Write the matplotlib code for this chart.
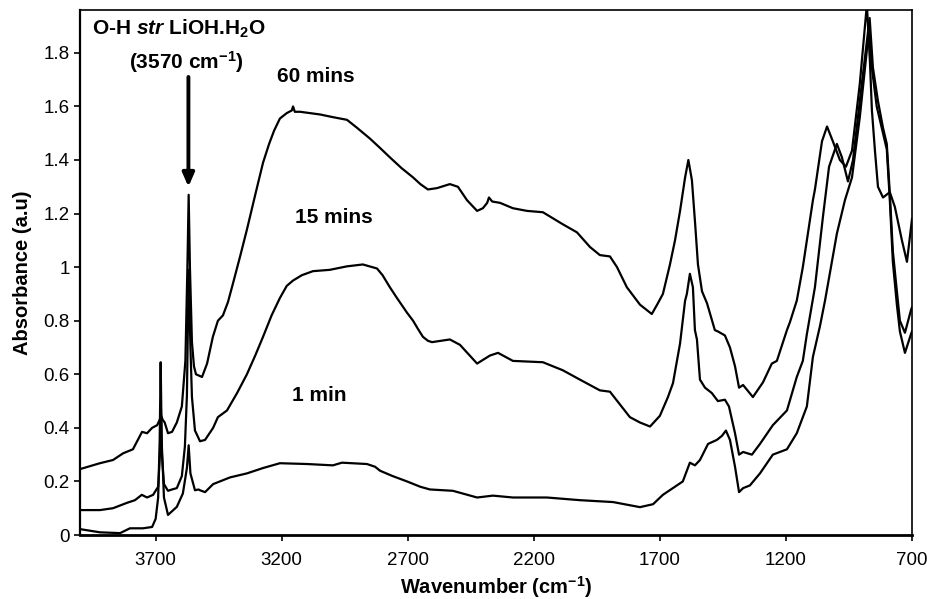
import matplotlib
matplotlib.use("Agg")
import matplotlib.pyplot as plt
from matplotlib.ticker import FuncFormatter

plt.rcParams['font.family'] = ['Liberation Sans', 'DejaVu Sans']
plt.rcParams['mathtext.fontset'] = 'custom'
plt.rcParams['mathtext.rm'] = 'Liberation Sans:bold'
plt.rcParams['mathtext.bf'] = 'Liberation Sans:bold'
plt.rcParams['mathtext.it'] = 'Liberation Sans:italic:bold'

# 60 mins spectrum (wavenumber, absorbance)
wn_60 = [4000, 3921, 3869, 3829, 3790, 3754, 3734, 3714, 3694, 3684, 3678, 3672, 3664,
         3651, 3635, 3616, 3596, 3582, 3574, 3569, 3564, 3556, 3548, 3540, 3516, 3496,
         3473, 3453, 3433, 3413, 3393, 3365, 3338, 3305, 3274, 3250, 3230, 3207, 3180,
         3160, 3155, 3148, 3127, 3048, 2997, 2941, 2901, 2850, 2810, 2771, 2725, 2679,
         2650, 2620, 2584, 2533, 2501, 2465, 2425, 2402, 2385, 2378, 2365, 2334, 2283,
         2227, 2164, 2085, 2029, 1977, 1938, 1898, 1870, 1831, 1779, 1732, 1708, 1688,
         1660, 1640, 1620, 1600, 1587, 1573, 1560, 1549, 1533, 1513, 1482, 1470, 1442,
         1422, 1402, 1386, 1370, 1331, 1291, 1256, 1236, 1196, 1184, 1157, 1133, 1093,
         1085, 1057, 1037, 1014, 986, 962, 938, 907, 879, 867, 859, 847, 835, 815, 788,
         768, 740, 720, 700]
abs_60 = [0.246, 0.268, 0.28, 0.305, 0.32, 0.385, 0.38, 0.40, 0.41, 0.43, 0.445, 0.43, 0.42,
          0.38, 0.385, 0.42, 0.48, 0.65, 1.0, 1.27, 1.0, 0.72, 0.63, 0.60, 0.59, 0.64,
          0.74, 0.80, 0.82, 0.87, 0.94, 1.04, 1.14, 1.27, 1.39, 1.46, 1.51, 1.555, 1.575,
          1.585, 1.60, 1.58, 1.58, 1.57, 1.56, 1.55, 1.52, 1.48, 1.445, 1.41, 1.37, 1.335,
          1.31, 1.29, 1.295, 1.31, 1.30, 1.25, 1.21, 1.22, 1.24, 1.26, 1.245, 1.24, 1.22,
          1.21, 1.205, 1.16, 1.13, 1.075, 1.045, 1.04, 1.0, 0.925, 0.86, 0.825, 0.865, 0.90,
          1.01, 1.10, 1.21, 1.335, 1.40, 1.325, 1.16, 1.01, 0.91, 0.865, 0.765, 0.76, 0.745,
          0.70, 0.63, 0.55, 0.56, 0.515, 0.57, 0.64, 0.65, 0.765, 0.795, 0.875, 1.0, 1.25,
          1.29, 1.47, 1.525, 1.47, 1.40, 1.375, 1.435, 1.685, 1.98, 1.77, 1.585, 1.435, 1.30, 1.26, 1.28,
          1.225, 1.10, 1.02, 1.18]

# 15 mins spectrum
wn_15 = [4000, 3921, 3869, 3814, 3782, 3755, 3734, 3710, 3690, 3683, 3679, 3675, 3667,
         3651, 3635, 3616, 3596, 3584, 3576, 3569, 3562, 3556, 3544, 3524, 3504, 3472,
         3453, 3417, 3377, 3338, 3305, 3274, 3240, 3207, 3180, 3155, 3120, 3076, 3009,
         2941, 2878, 2822, 2800, 2771, 2743, 2703, 2679, 2660, 2640, 2620, 2604, 2533,
         2493, 2425, 2374, 2342, 2283, 2164, 2085, 2017, 1938, 1898, 1819, 1779, 1739,
         1700, 1668, 1648, 1620, 1600, 1593, 1581, 1569, 1561, 1553, 1541, 1521, 1494,
         1470, 1442, 1426, 1402, 1386, 1370, 1335, 1303, 1252, 1196, 1157, 1133, 1117,
         1085, 1053, 1029, 998, 978, 954, 934, 899, 868, 855, 835, 815, 800, 788, 776,
         760, 748, 728, 704, 700]
abs_15 = [0.093, 0.093, 0.10, 0.12, 0.13, 0.15, 0.14, 0.15, 0.18, 0.30, 0.47, 0.30, 0.19,
          0.165, 0.17, 0.175, 0.22, 0.33, 0.52, 0.99, 0.70, 0.515, 0.39, 0.35, 0.355, 0.40,
          0.44, 0.465, 0.53, 0.60, 0.67, 0.74, 0.82, 0.885, 0.93, 0.95, 0.97, 0.985, 0.99,
          1.003, 1.01, 0.995, 0.97, 0.925, 0.885, 0.83, 0.80, 0.77, 0.74, 0.725, 0.72, 0.73,
          0.71, 0.64, 0.67, 0.68, 0.65, 0.645, 0.615, 0.58, 0.54, 0.535, 0.44, 0.42, 0.405,
          0.445, 0.515, 0.567, 0.715, 0.875, 0.90, 0.975, 0.925, 0.765, 0.73, 0.58, 0.55, 0.53,
          0.50, 0.505, 0.48, 0.38, 0.30, 0.31, 0.30, 0.34, 0.41, 0.465, 0.59, 0.65, 0.75,
          0.925, 1.19, 1.375, 1.46, 1.41, 1.32, 1.40, 1.685, 1.93, 1.745, 1.62, 1.52, 1.46, 1.275, 1.06,
          0.91, 0.80, 0.755, 0.84, 0.85]

# 1 min spectrum
wn_1 = [4000, 3921, 3841, 3802, 3750, 3714, 3700, 3690, 3684, 3680, 3676, 3667, 3651,
        3616, 3592, 3576, 3569, 3562, 3544, 3530, 3524, 3504, 3472, 3405, 3338, 3274,
        3207, 3100, 2997, 2961, 2862, 2830, 2810, 2760, 2703, 2650, 2612, 2521, 2425,
        2362, 2283, 2148, 2017, 1886, 1779, 1727, 1688, 1609, 1581, 1561, 1541, 1509,
        1474, 1454, 1438, 1422, 1402, 1386, 1370, 1343, 1303, 1252, 1196, 1157, 1117,
        1093, 1065, 1045, 998, 966, 938, 907, 879, 870, 860, 840, 815, 800, 788, 776,
        760, 748, 728, 704, 700]
abs_1 = [0.022, 0.01, 0.007, 0.025, 0.025, 0.03, 0.06, 0.14, 0.35, 0.645, 0.35, 0.14, 0.075,
         0.105, 0.155, 0.25, 0.335, 0.23, 0.167, 0.17, 0.167, 0.16, 0.19, 0.215, 0.23, 0.25,
         0.268, 0.265, 0.26, 0.27, 0.265, 0.255, 0.24, 0.22, 0.20, 0.18, 0.17, 0.165, 0.14,
         0.147, 0.14, 0.14, 0.13, 0.123, 0.104, 0.115, 0.15, 0.20, 0.27, 0.26, 0.28, 0.34,
         0.355, 0.37, 0.39, 0.355, 0.255, 0.16, 0.175, 0.185, 0.23, 0.30, 0.32, 0.38, 0.48,
         0.665, 0.78, 0.875, 1.125, 1.25, 1.335, 1.56, 1.81, 1.90, 1.75, 1.60, 1.50, 1.44, 1.25, 1.02,
         0.86, 0.76, 0.68, 0.75, 0.76]

x_ticks = [3700, 3200, 2700, 2200, 1700, 1200, 700]
y_ticks = [0, 0.2, 0.4, 0.6, 0.8, 1.0, 1.2, 1.4, 1.6, 1.8]

fig = plt.figure(figsize=(9.28, 5.99), dpi=100)
ax = fig.add_axes([80 / 928, 64 / 599, 832 / 928, 525 / 599])

for wn, ab in [(wn_60, abs_60), (wn_15, abs_15), (wn_1, abs_1)]:
    ax.plot(wn, ab, color='black', lw=1.6, solid_joinstyle='round')

ax.set_xlim(4000, 700)
ax.set_ylim(0, 1.96)
ax.set_xticks(x_ticks)
ax.set_yticks(y_ticks)
ax.yaxis.set_major_formatter(FuncFormatter(lambda v, p: '%g' % round(v, 1)))
ax.tick_params(direction='out', length=4.5, width=1.2, labelsize=13.5, colors='black')
ax.tick_params(axis='x', pad=7.5)
ax.tick_params(axis='y', pad=3)
for s in ax.spines.values():
    s.set_linewidth(1.2)
ax.spines['bottom'].set_linewidth(2)
ax.spines['left'].set_linewidth(1.6)

ax.set_xlabel('Wavenumber (cm$^{-1}$)', fontsize=14.5, fontweight='bold', labelpad=4)
ax.set_ylabel('Absorbance (a.u)', fontsize=14.5, fontweight='bold', labelpad=8)

ax.text(3952, 1.89, 'O-H $\\it{str}$ LiOH.H$_2$O', fontsize=15, fontweight='bold',
        va='center', ha='left')
ax.text(3580, 1.765, '(3570 cm$^{-1}$)', fontsize=15, fontweight='bold', va='center', ha='center')
ax.annotate('', xy=(3570, 1.30), xytext=(3570, 1.71),
            arrowprops=dict(arrowstyle='-|>,head_width=0.35,head_length=0.8', color='black',
                            lw=2.8, shrinkA=0, shrinkB=0))
ax.text(3219, 1.71, '60 mins', fontsize=15, fontweight='bold', va='center', ha='left')
ax.text(3147, 1.186, '15 mins', fontsize=15, fontweight='bold', va='center', ha='left')
ax.text(3160, 0.52, '1 min', fontsize=15, fontweight='bold', va='center', ha='left')

fig.savefig('out.png', dpi=100)
